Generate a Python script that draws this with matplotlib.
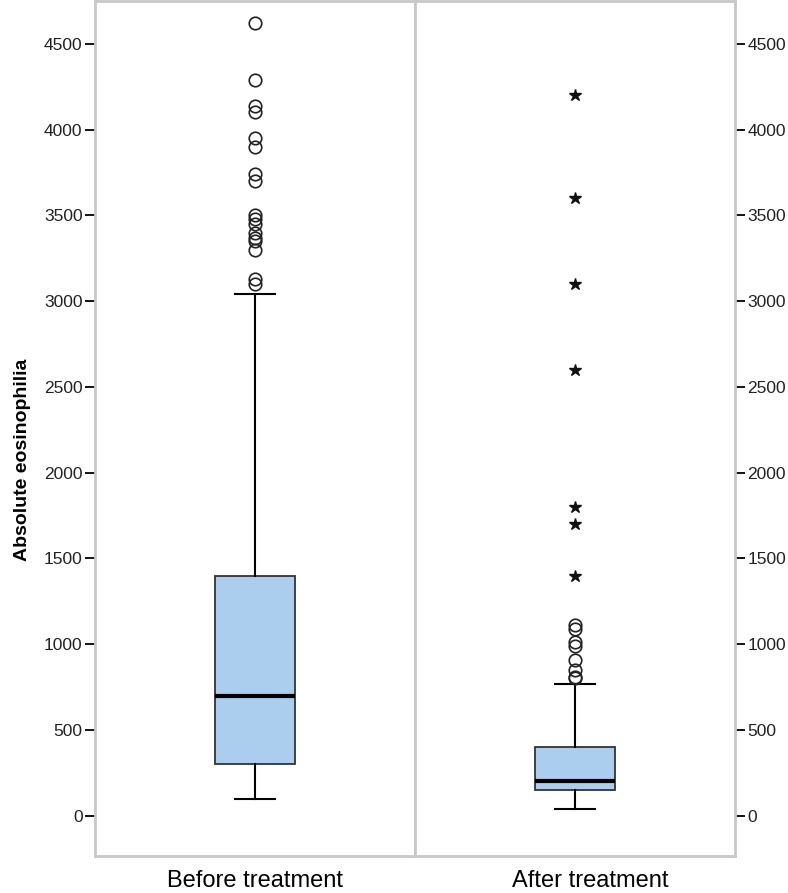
import numpy as np
import matplotlib
matplotlib.use('Agg')
import matplotlib.pyplot as plt

plt.rcParams['font.family'] = ['Liberation Sans', 'DejaVu Sans']

# Du lieu doc tu hinh
groups = ['Before treatment', 'After treatment']
q1 = [300, 150]
med = [700, 200]
q3 = [1400, 400]
wlo = [100, 40]
whi = [3040, 765]
# outliers (vong tron)
circ_before = [4620, 4290, 4140, 4100, 3950, 3900, 3740, 3700,
               3500, 3480, 3450, 3400, 3370, 3350, 3300, 3130, 3100]
circ_after = [1110, 1090, 1010, 990, 910, 850, 810, 800]
# extreme (dau sao)
star_after = [4200, 3600, 3100, 2600, 1800, 1700, 1400]
yticks = np.arange(0, 5000, 500)

box_color = '#abcdee'
frame_color = '#c8c8c8'

fig = plt.figure(figsize=(7.88, 8.93), dpi=100)
L, R, B, T = 95 / 788, 735 / 788, 37 / 893, 892 / 893
mid = 415 / 788
ax1 = fig.add_axes([L, B, mid - L, T - B])
ax2 = fig.add_axes([mid, B, R - mid, T - B], sharey=ax1)

circles = [circ_before, circ_after]
for i, ax in enumerate([ax1, ax2]):
    st = dict(med=med[i], q1=q1[i], q3=q3[i], whislo=wlo[i], whishi=whi[i],
              fliers=circles[i])
    ax.bxp([st], positions=[1], widths=0.25, patch_artist=True,
           boxprops=dict(facecolor=box_color, edgecolor='#333333', linewidth=1.3),
           medianprops=dict(color='black', linewidth=3),
           whiskerprops=dict(color='black', linewidth=1.5),
           capprops=dict(color='black', linewidth=1.5),
           flierprops=dict(marker='o', markersize=9, markerfacecolor='none',
                           markeredgecolor='#222222', markeredgewidth=1.2))
    ax.set_xlim(0.5, 1.5)
    ax.set_xticks([])
    for s in ax.spines.values():
        s.set_color(frame_color)
        s.set_linewidth(2)

ax2.plot(np.ones(len(star_after)), star_after, linestyle='none', marker='*',
         markersize=9, color='#111111')

# nhan nhom duoi khung
fig.text(255 / 788, 6 / 893, groups[0], fontsize=17, ha='center', va='baseline')
fig.text(590 / 788, 6 / 893, groups[1], fontsize=17, ha='center', va='baseline')

ax1.set_ylim(-235, 4750)
ax1.set_yticks(yticks)
ax1.tick_params(axis='y', labelsize=12.5, length=7.5, width=1.3, color='black',
                labelcolor='#222222', pad=1.5)
ax2.tick_params(axis='y', left=False, labelleft=False, right=True, labelright=True,
                labelsize=12.5, length=7.5, width=1.3, color='black',
                labelcolor='#222222', pad=1.5)
ax1.set_ylabel('Absolute eosinophilia', fontsize=14, fontweight='bold')
ax1.yaxis.set_label_coords(-0.2, 0.463)

fig.savefig('out.png', dpi=100)
